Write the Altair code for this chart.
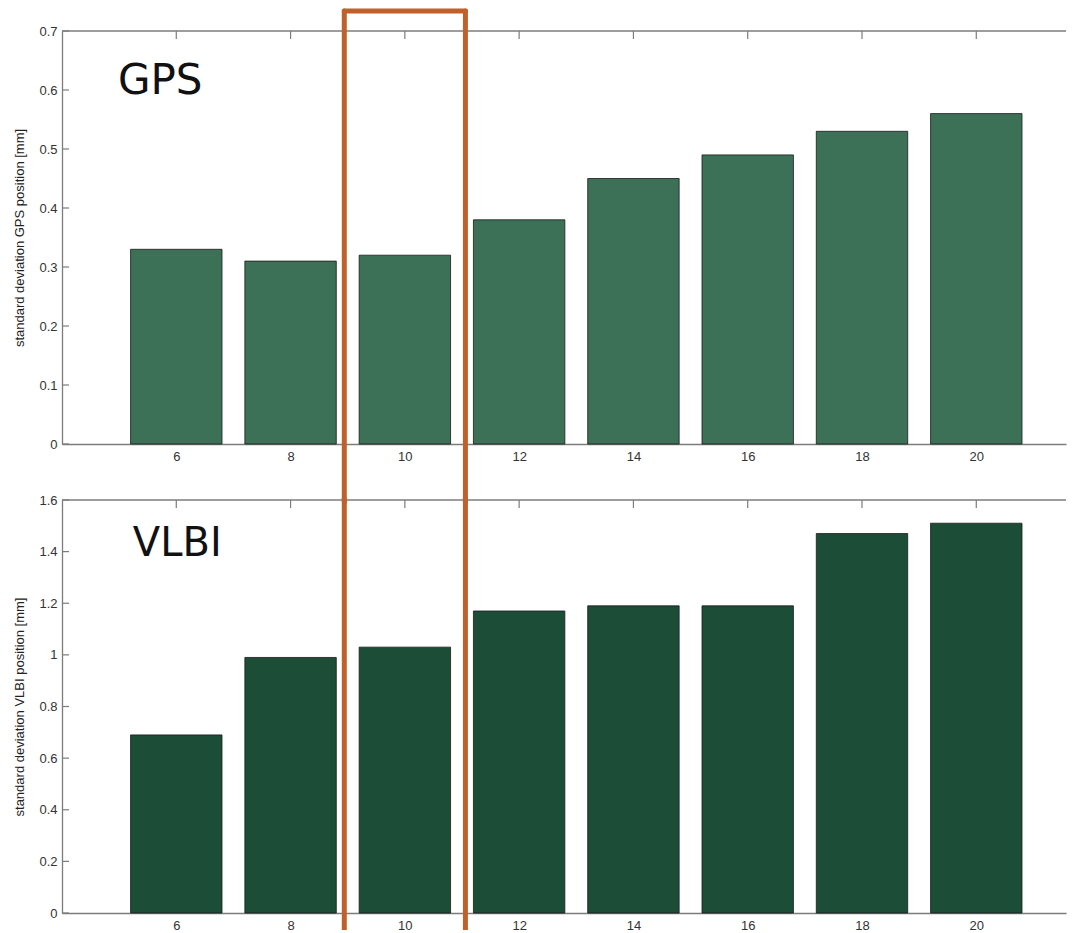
import altair as alt
import pandas as pd

# ---- data ----
categories = [6, 8, 10, 12, 14, 16, 18, 20]
gps_std = [0.33, 0.31, 0.32, 0.38, 0.45, 0.49, 0.53, 0.56]
vlbi_std = [0.69, 0.99, 1.03, 1.17, 1.19, 1.19, 1.47, 1.51]
gps_ticks = [0, 0.1, 0.2, 0.3, 0.4, 0.5, 0.6, 0.7]
vlbi_ticks = [0, 0.2, 0.4, 0.6, 0.8, 1.0, 1.2, 1.4, 1.6]
highlight_cat = 10
gps_label = ["GPS"]
vlbi_label = ["VLBI"]

# ---- styles ----
W = 1004
H = 413
GAP = 56
XMIN, XMAX = 4, 21.57
BOX_HALF = 1.06
GRAY = "#7c7c7c"
ORANGE = "#c0612b"
FONT = "Liberation Sans"


def panel(vals, ticks, ymax, color, title, label, lx, ly, fsize, top):
    df = pd.DataFrame({"cat": categories, "val": vals})
    xscale = alt.Scale(domain=[XMIN, XMAX], nice=False, zero=False)
    yscale = alt.Scale(domain=[0, ymax], nice=False, zero=True)
    xaxis = alt.Axis(
        values=categories,
        format="d",
        ticks=False,
        grid=False,
        title=None,
        labelFontSize=13,
        labelColor="#333333",
        labelPadding=6,
        domainColor=GRAY,
        domainWidth=1.3,
    )
    yaxis = alt.Axis(
        values=ticks,
        format="~g",
        ticks=False,
        grid=False,
        title=title,
        titleFontSize=13,
        titleFontWeight="normal",
        titleColor="#222222",
        titlePadding=12,
        labelFontSize=13,
        labelColor="#333333",
        labelPadding=5,
        domainColor=GRAY,
        domainWidth=1.3,
    )

    def X(f):
        return alt.X(f, scale=xscale, axis=xaxis)

    def Y(f):
        return alt.Y(f, scale=yscale, axis=yaxis)

    bars = (
        alt.Chart(df)
        .transform_calculate(lo="datum.cat - 0.8", hi="datum.cat + 0.8", zero="0")
        .mark_rect(fill=color, stroke="#1b1b1b", strokeWidth=0.8)
        .encode(x=X("lo:Q"), x2="hi:Q", y=Y("val:Q"), y2="zero:Q")
    )

    tdf = pd.DataFrame({"t": ticks})
    yticks = (
        alt.Chart(tdf)
        .mark_rule(color=GRAY, strokeWidth=1.2)
        .encode(y=Y("t:Q"), x=alt.value(0), x2=alt.value(7))
    )
    xticks = (
        alt.Chart(df)
        .mark_rule(color=GRAY, strokeWidth=1.2)
        .encode(x=X("cat:Q"), y=alt.value(0), y2=alt.value(8))
    )
    one = pd.DataFrame({"a": [0]})
    topline = (
        alt.Chart(one)
        .mark_rule(color=GRAY, strokeWidth=1.3)
        .encode(x=alt.value(0), x2=alt.value(W), y=alt.value(0))
    )

    ldf = pd.DataFrame({"t": label, "lx": [lx], "ly": [ly]})
    text = (
        alt.Chart(ldf)
        .mark_text(font="DejaVu Sans", fontSize=fsize, align="left", baseline="alphabetic", color="#111111")
        .encode(x=X("lx:Q"), y=Y("ly:Q"), text="t:N")
    )

    hdf = pd.DataFrame({"c": [highlight_cat, highlight_cat]})
    sides_base = alt.Chart(hdf).transform_window(i="row_number()").transform_calculate(
        side=f"datum.i == 1 ? datum.c - {BOX_HALF} : datum.c + {BOX_HALF}"
    )
    if top:
        sides = (
            sides_base
            .mark_rule(color=ORANGE, strokeWidth=5, strokeCap="round")
            .encode(x=X("side:Q"), y=alt.value(-20), y2=alt.value(H + GAP + 2))
        )
        hdf2 = pd.DataFrame({"c": [highlight_cat]})
        cap = (
            alt.Chart(hdf2)
            .transform_calculate(l=f"datum.c - {BOX_HALF}", r=f"datum.c + {BOX_HALF}")
            .mark_rule(color=ORANGE, strokeWidth=5, strokeCap="round")
            .encode(x=X("l:Q"), x2="r:Q", y=alt.value(-20))
        )
        layers = [bars, yticks, xticks, topline, text, sides, cap]
    else:
        sides = (
            sides_base
            .mark_rule(color=ORANGE, strokeWidth=5)
            .encode(x=X("side:Q"), y=alt.value(-2), y2=alt.value(H + 17))
        )
        layers = [bars, yticks, xticks, topline, text, sides]

    return alt.layer(*layers).properties(width=W, height=H)


top = panel(gps_std, gps_ticks, 0.7, "#3c7157", "standard deviation GPS position [mm]",
            gps_label, 4.98, 0.593, 42, True)
bottom = panel(vlbi_std, vlbi_ticks, 1.6, "#1c4d36", "standard deviation VLBI position [mm]",
               vlbi_label, 5.24, 1.383, 40, False)

chart = (
    alt.vconcat(top, bottom, spacing=GAP, bounds="flush")
    .properties(padding={"left": 5, "top": 0, "right": 0, "bottom": 0})
    .configure_view(stroke=None)
    .configure_axis(labelFont=FONT, titleFont=FONT)
)

chart.save("out.html", embed_options={"renderer": "svg", "actions": False})
